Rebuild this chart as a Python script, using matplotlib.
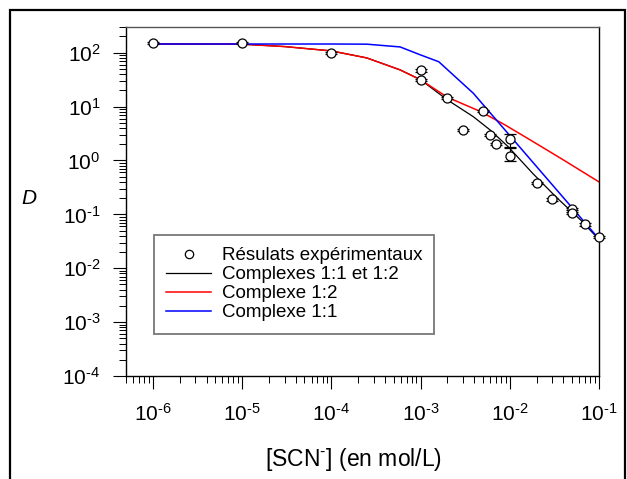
import matplotlib
matplotlib.use("Agg")
import matplotlib.pyplot as plt
from matplotlib.lines import Line2D
from matplotlib.patches import Rectangle
from matplotlib.ticker import LogLocator, NullFormatter, FuncFormatter
import numpy as np

plt.rcParams["font.family"] = "Liberation Sans"
plt.rcParams["mathtext.fontset"] = "custom"
plt.rcParams["mathtext.rm"] = "Liberation Sans"
plt.rcParams["mathtext.it"] = "Liberation Sans:italic"
plt.rcParams["axes.unicode_minus"] = False

# experimental points, [SCN-] in mol/L
scn_exp = [1e-6, 1e-5, 1e-4, 1e-3, 1e-3, 2e-3, 3e-3, 5e-3, 6e-3, 7e-3,
           1e-2, 1e-2, 2e-2, 3e-2, 5e-2, 5e-2, 7e-2, 1e-1]
d_exp = [150, 152, 100, 47, 31, 14.3, 3.7, 8.4, 3.0, 2.0,
         2.5, 1.2, 0.38, 0.19, 0.125, 0.105, 0.065, 0.038]
d_err_lo = [7, 7, 5, 2.3, 1.5, 0.7, 0.18, 0.4, 0.15, 0.1,
            0.75, 0.22, 0.02, 0.01, 0.006, 0.005, 0.003, 0.002]
d_err_hi = [7, 7, 5, 2.3, 1.5, 0.7, 0.18, 0.4, 0.15, 0.1,
            0.6, 0.5, 0.02, 0.01, 0.006, 0.005, 0.003, 0.002]

# model: complexes 1:1 and 1:2
scn_both = [1e-6, 1e-5, 3e-5, 1e-4, 2.5e-4, 5.9e-4, 1e-3, 2e-3, 3.9e-3,
            6e-3, 9.6e-3, 1.8e-2, 3.3e-2, 6.2e-2, 1e-1]
d_both = [145, 144, 130, 108, 80, 48, 31.5, 13.3, 6.5,
          3.7, 1.8, 0.58, 0.21, 0.079, 0.034]

# model: complex 1:2 only
scn_12 = [1e-6, 1e-5, 3e-5, 1e-4, 2.5e-4, 5.9e-4, 1e-3, 2e-3, 4.7e-3,
          8.5e-3, 1.7e-2, 4e-2, 1e-1]
d_12 = [145, 144, 130, 108, 80, 48, 31.5, 14.9, 8.1,
        4.75, 2.4, 1.02, 0.40]

# model: complex 1:1 only
scn_11 = [1e-6, 1e-5, 1e-4, 2.5e-4, 5.9e-4, 1e-3, 1.6e-3, 3.9e-3, 1e-1]
d_11 = [145, 145, 145, 144, 128, 91, 68, 17.7, 0.035]


def pow10_label(val, pos):
    # plain hyphen in the exponent, like the original export
    return r"$10^{\text{%d}}$" % int(round(np.log10(val)))


fig = plt.figure(figsize=(6.27, 4.79), dpi=100)
ax = fig.add_axes([126 / 627, 1 - 376 / 479, (599 - 126) / 627, (376 - 27) / 479])

# outer frame around the whole figure
fig.add_artist(Rectangle((10 / 627, -0.05), (625 - 10) / 627, 1 - 10 / 479 + 0.05,
                         transform=fig.transFigure, fill=False, lw=1.6, ec="black"))

ax.plot(scn_both, d_both, color="black", lw=0.9, zorder=2)
ax.plot(scn_12, d_12, color="#ff0000", lw=1.1, zorder=2)
ax.plot(scn_11, d_11, color="#0000ff", lw=1.1, zorder=2)

ax.errorbar(scn_exp, d_exp, yerr=[d_err_lo, d_err_hi], fmt="o", ms=6.5,
            mfc="white", mec="black", mew=0.9, ecolor="black", elinewidth=0.8,
            capsize=4.3, capthick=0.8, zorder=3, clip_on=False)

ax.set_xscale("log")
ax.set_yscale("log")
ax.set_xlim(5e-7, 1e-1)
ax.set_ylim(1e-4, 300)

ax.xaxis.set_major_locator(LogLocator(base=10, numticks=20))
ax.yaxis.set_major_locator(LogLocator(base=10, numticks=20))
ax.xaxis.set_minor_locator(LogLocator(base=10, subs=np.arange(2, 10), numticks=100))
ax.yaxis.set_minor_locator(LogLocator(base=10, subs=np.arange(2, 10), numticks=100))
ax.xaxis.set_major_formatter(FuncFormatter(pow10_label))
ax.yaxis.set_major_formatter(FuncFormatter(pow10_label))
ax.xaxis.set_minor_formatter(NullFormatter())
ax.yaxis.set_minor_formatter(NullFormatter())

ax.tick_params(which="major", direction="out", length=9.5, width=0.8, labelsize=15)
ax.tick_params(which="minor", direction="out", length=5.3, width=0.7)
ax.tick_params(axis="x", which="major", pad=10)
ax.tick_params(axis="y", which="major", pad=9)

for side in ["left", "bottom", "right"]:
    ax.spines[side].set_linewidth(1.0)
ax.spines["top"].set_linewidth(1.0)
ax.spines["top"].set_color("#555555")

ax.set_xlabel(r"[SCN$^{\text{-}}$] (en mol/L)", fontsize=16.5, labelpad=11)
ax.xaxis.set_label_coords(0.48, -0.2)
fig.text(29 / 627, 1 - 199 / 479, "D", fontsize=15, style="italic",
         ha="center", va="center")

handles = [
    Line2D([], [], ls="none", marker="o", ms=6, mfc="white", mec="black", mew=0.9),
    Line2D([], [], color="black", lw=0.9),
    Line2D([], [], color="#ff0000", lw=1.1),
    Line2D([], [], color="#0000ff", lw=1.1),
]
labels = ["Résulats expérimentaux", "Complexes 1:1 et 1:2", "Complexe 1:2", "Complexe 1:1"]
leg = ax.legend(handles, labels, loc="upper left",
                bbox_to_anchor=(154 / 627, 1 - 235 / 479), bbox_transform=fig.transFigure,
                borderaxespad=0, fontsize=13.5, frameon=True, fancybox=False,
                handlelength=2.4, handletextpad=0.55, labelspacing=0.1, borderpad=0.65)
leg.get_frame().set_edgecolor("#555555")
leg.get_frame().set_linewidth(1.3)

fig.savefig("out.png", dpi=100)
